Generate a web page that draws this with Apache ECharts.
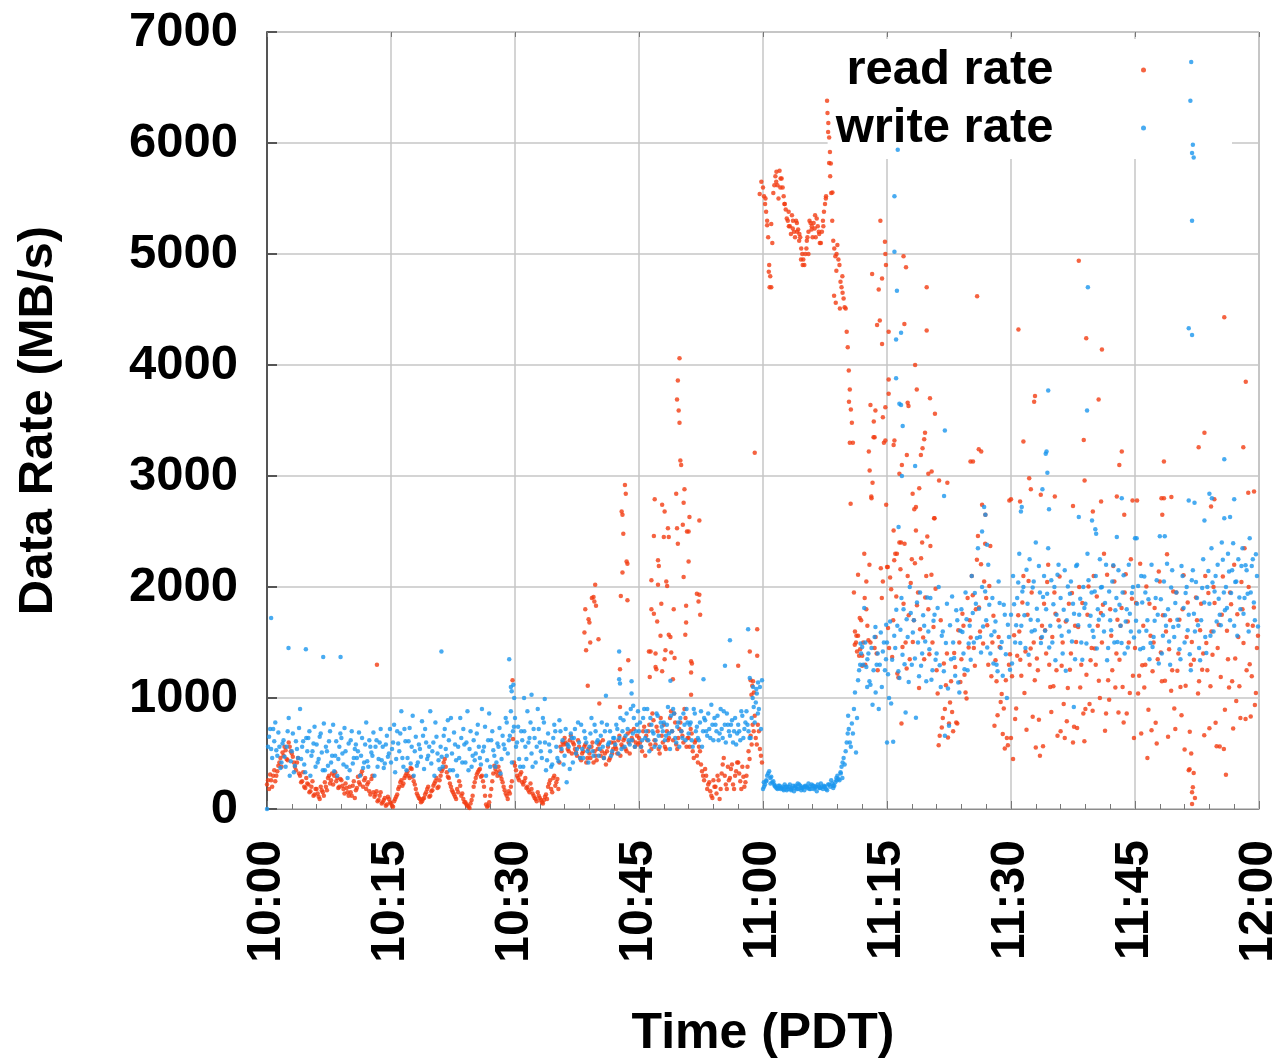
<!DOCTYPE html>
<html><head><meta charset="utf-8">
<script src="https://cdn.jsdelivr.net/npm/echarts@6/dist/echarts.min.js"></script>
<style>html,body{margin:0;padding:0;background:#fff}#chart{width:1274px;height:1062px}</style>
</head><body><div id="chart"></div>
<script>
// Time axis: minutes after 10:00 PDT
const tickLabels = ['10:00','10:15','10:30','10:45','11:00','11:15','11:30','11:45','12:00'];
const SAMPLES_PER_MIN = 4;   // band samples every 15 s from 10:00
const BAND2_OFFSET_MIN = 0.125; // second band sampled 7.5 s later

// read rate (MB/s)
const readBand = [
// 10:00-10:15
220,180,260,300, 250,340,420,380, 480,530,440,560, 500,420,350,460, 300,250,200,280,
220,160,250,130, 180,110,200,150, 240,170,300,260, 220,330,280,200, 260,180,230,150,
200,120,250,170, 290,220,340,260, 180,240,130,300, 110,160,80,150, 60,100,40,90,
// 10:15-10:30
50,20,90,130, 200,260,230,300, 340,280,360,250, 180,120,90,70, 100,150,200,120,
170,230,280,200, 300,360,450,330, 280,200,150,110, 180,250,120,90, 60,30,10,80,
200,280,330,360, 300,200,40,30, 120,250,390,330, 380,300,240,170, 120,160,200,630,
// 10:30-10:45
390,300,260,330, 220,280,200,150, 180,120,90,150, 100,60,80,130, 200,260,150,300,
240,180,560,600, 640,580,520,660, 600,540,480,560, 440,520,580,460, 500,560,420,480,
540,600,520,460, 400,560,460,500, 600,540,620,480, 560,640,520,600, 700,620,560,660,
// 10:45-11:00
640,560,700,480, 620,760,540,800, 580,700,500,660, 760,540,620,820, 700,860,580,640,
780,660,900,560, 640,720,520,600, 480,560,400,300, 360,180,240,120, 260,200,300,90,
320,460,220,380, 280,400,180,340, 420,250,380,200, 300,520,660,760, 840,580,700,480,
// 11:00-11:15
5600,5450,5260,4900, 4700,5550,5700,5620, 5750,5680,5520,5400, 5300,5250,5350,5200, 5300,5220,5150,5000,
4900,5050,5200,5280, 5150,5230,5320,5200, 5100,5300,5450,6380, 5820,5550,5120,4980, 5080,4900,4700,4600,
4510,4160,3780,3480, 1950,1500,1560,1440, 1290,2300,1800,1520, 3640,2940,1450,1400, 4680,2170,3530,5110,
// 11:15-11:30
2180,1450,1980,1700, 2300,1220,2400,770, 1850,1500,2100,1350, 2250,1700,2510,1950, 1620,2400,1350,2100,
1800,2370,1500,2620, 1250,575,1700,820, 900,1400,770,1150, 700,1280,770,1500, 1350,1650,1050,1900,
1700,2100,1450,1800, 2460,1600,2740,2050, 1900,1300,2370,1500, 750,1150,1550,965, 675,545,640,1300,
// 11:30-11:45
640,450,810,1380, 1600,1200,2100,1420, 1750,1300,1950,1500, 554,1250,480,1650, 1850,1400,2200,1100,
1550,1950,1250,1700, 700,1500,640,790, 1850,1400,600,1650, 730,2000,1300,860, 900,1750,945,1450,
2100,1300,1650,1000, 1500,2300,860,1160, 1800,1250,2050,1400, 870,1650,1100,1950, 860,1500,2250,1200,
// 11:45-12:00
1450,2780,1200,680, 1650,1300,459,1850, 709,1500,776,1350, 2050,1150,2800,1600, 651,1700,1250,905,
1950,1400,1100,1800, 535,1550,348,1300, 196,98,1700,1150, 1850,1400,2100,1250, 727,1600,2000,776,
1450,562,1750,540, 308,1350,1950,1150, 2200,972,1550,820, 1800,2350,1250,2000, 834,1650,937,1450
];

// read rate, second band (7.5 s after each sample above)
const readBand2 = [
// 10:00-10:15
260,310,200,350, 300,390,460,510, 560,450,600,520, 470,380,420,320, 240,330,190,230,
150,200,120,180, 140,90,170,120, 200,280,230,320, 300,250,190,270, 210,140,190,120,
150,210,100,190, 240,310,200,280, 220,160,270,150, 130,70,120,50, 80,30,110,60,
// 10:15-10:30
30,70,110,180, 240,210,280,320, 300,370,290,220, 140,100,60,90, 130,180,110,160,
210,250,190,260, 340,420,380,290, 230,170,130,90, 150,210,140,60, 40,20,50,120,
240,310,350,290, 250,120,20,60, 180,320,360,300, 340,270,200,140, 90,140,250,420,
// 10:30-10:45
350,280,310,240, 250,190,170,230, 140,100,70,120, 80,50,110,90, 230,180,280,210,
270,420,520,580, 600,540,620,500, 580,510,620,460, 500,560,420,540, 460,600,520,440,
580,480,620,500, 520,440,600,540, 560,500,660,580, 620,540,680,500, 640,720,600,580,
// 10:45-11:00
600,520,740,660, 700,580,860,620, 740,540,820,600, 560,700,640,880, 620,780,540,720,
700,600,820,640, 560,680,460,620, 420,520,340,260, 300,220,160,100, 200,140,260,180,
400,300,180,260, 360,220,300,420, 320,180,290,240, 380,450,580,700, 640,760,540,420,
// 11:00-11:15
5520,5380,5150,4800, 5100,5620,5740,5500, 5680,5600,5450,5320, 5250,5180,5300,5150, 5200,5120,5050,4950,
5000,5150,5300,5220, 5280,5150,5250,5100, 5200,5380,5520,6100, 5700,5300,5050,4850, 4950,4750,4650,4520,
4300,3950,3600,3300, 1600,1420,1380,1700, 1500,1300,1650,2200, 2800,3350,1550,1250, 4400,1900,3300,4900,
// 11:15-11:30
1630,2085,1370,2240, 1915,1185,2160,1460, 2390,1265,1745,2035, 1505,2215,1835,1090, 2260,1545,1905,2455,
1395,2110,1640,1985, 1040,660,735,1310, 1115,645,960,875, 1405,780,1610,1145, 1760,1210,995,1455,
1545,1925,1290,2245, 1815,2205,1490,2390, 1655,2010,1195,1740, 1340,845,1460,1035, 905,1160,575,1395,
// 11:30-11:45
1195,1565,905,1745, 1345,1860,1045,715, 2055,1445,830,1160, 1355,805,1540,565, 1610,2045,1300,875,
1105,1760,660,2095, 1290,945,1690,1090, 1255,1945,740,1505, 1640,1095,1855,610, 1210,2005,1340,885,
1445,1915,1155,1765, 1840,705,2110,985, 1560,2190,1095,1705, 1345,1810,780,2115, 1690,1045,1895,640,
// 11:45-12:00
1855,1040,2210,1295, 1095,2005,895,1560, 1240,1810,590,2140, 1410,1745,1155,2295, 1440,1065,1960,720,
1245,1705,845,2105, 1110,1860,695,1505, 1345,1905,1040,1610, 1255,665,1495,1945, 1105,1390,1855,565,
1660,1190,2095,895, 1605,1095,1845,725, 1355,1755,1105,2045, 1495,810,1660,1305, 1195,1815,1045,1560
];

// read rate, extra points [minute, MB/s] (bursts and outliers)
const readExtra = [
[13.3,1300],[29.7,1160],
[38.4,1590],[38.5,1800],[38.6,1430],[38.8,1110],[38.9,1710],[39.0,1680],[39.1,1500],[39.3,1900],[39.5,1910],[39.6,1870],[39.7,2020],[39.8,1830],[40.1,1530],[40.2,950],
[42.7,1260],[42.7,920],[42.8,1920],[42.9,2680],[43.0,2650],[43.0,2130],[43.1,2480],[43.3,2920],[43.4,2840],[43.5,2230],[43.6,2210],[43.6,1880],[43.7,1340],
[49.9,4060],[49.7,3860],[49.6,3690],[49.8,3590],[49.9,3480],[50.0,3140],[50.1,3100],[59.0,3210],
[46.9,2790],[47.8,2740],[48.1,2680],[49.5,2840],[50.5,2880],[50.4,2760],[51.1,2630],[52.3,2600],[46.8,2460],[48.0,2450],[48.5,2530],[48.6,2450],[49.6,2530],[50.3,2560],[50.8,2500],[51.0,2500],[49.7,2390],[47.3,2240],[47.4,2190],[51.0,2230],
[46.5,2060],[47.3,2020],[48.3,2050],[48.4,2010],[50.4,2090],[52.0,1940],[52.3,1930],[52.2,1870],[52.4,1750],[46.5,1800],[46.8,1760],[47.2,1690],[47.7,1850],[49.2,1800],[50.7,1830],[50.7,1680],
[47.6,1560],[48.6,1570],[48.8,1550],[50.6,1570],[46.2,1420],[46.4,1420],[47.0,1400],[48.2,1430],[48.9,1410],[49.3,1360],[48.1,1350],[51.3,1330],[51.4,1310],[51.3,1230],[47.0,1280],[47.1,1260],[47.8,1240],[46.3,1190],[49.1,1170],[51.3,1030],
[57.0,1290],[58.4,1420],[59.3,1380],[59.3,1620],[58.5,1160],[58.8,1150],[58.7,1110],[58.9,1050],[58.6,1030],
[59.6,5540],[59.8,5650],
[60.3,5500],[60.5,5300],[61.0,5270],[61.6,5650],[62.1,5600],[62.6,5450],[63.1,5380],[63.6,5230],[64.1,5280],[64.4,5180],[65.3,5120],[65.9,5250],[66.3,5350],[66.8,5180],[67.3,5250],[67.6,5500],[68.9,5000],[69.6,4800],[64.6,4950],[65.5,5000],
[67.8,6270],[67.9,6180],[68.0,6050],[68.1,5920],[68.2,5815],[60.7,4840],[60.8,4700],[64.8,4900],[68.4,5555],[68.6,4625],[68.8,4560],[69.3,4510],[70.4,3670],[70.5,3300],[70.6,2750],
[71.5,2110],[71.7,1720],[72.3,1900],[72.5,2050],[72.8,3220],[72.9,3050],[73.1,2815],[73.2,4820],[73.4,3490],[73.5,3350],[73.6,3590],[73.8,4360],[74.2,5300],[74.4,4780],[74.4,4190],[74.5,2050],
[74.8,3620],[74.8,3320],[74.8,5000],[74.9,2740],[75.2,4300],[75.2,3870],[75.2,3740],[75.1,2180],[71.1,1480],[71.3,1560],[72.0,1380],[73.0,1500],
[75.8,3280],[75.9,3320],[75.8,2510],[76.2,2300],[76.5,3020],[76.7,2400],[76.8,3100],[77.0,4980],[77.1,4370],[77.3,4880],[77.4,3190],[77.5,3660],[77.6,3630],[78.1,2840],[78.3,2700],[78.4,4000],
[78.5,2720],[78.6,3780],[78.9,2890],[79.1,3190],[79.3,3250],[79.5,3330],[79.6,3390],[79.8,4700],[79.8,4310],[80.0,3020],[80.2,3700],[80.4,3040],[80.7,2620],[80.8,3560],[81.3,2960],[82.3,2940],
[85.1,3130],[85.4,3130],[85.9,4620],[86.1,3240],[86.4,3220],[86.9,2650],[89.8,2780],
[90.0,2790],[90.9,4320],[91.1,2770],[91.5,3310],[92.2,2980],[92.4,2880],[92.8,3670],[92.9,3720],[93.6,2830],[95.3,2815],[97.5,2730],[98.2,4940],[98.8,3325],[98.9,2960],[99.1,4240],[99.9,2680],
[100.6,3690],[100.9,2770],[101.0,4140],[102.8,2815],[103.1,3100],[103.4,3220],[103.7,2650],[104.7,2780],
[108.2,2800],[108.3,2650],[108.5,3130],[109.4,2810],[111.9,150],[111.9,45],[111.6,357],[112.1,325],[111.8,500],[112.7,3260],[113.4,3390],[114.2,2725],[114.6,2790],[115.8,4430],[118.1,3260],[118.4,3850],[118.7,2850],[119.4,2860]
];

// write rate (MB/s)
const writeBand = [
// 10:00-10:15
0,650,540,720, 780,480,560,420, 620,380,700,300, 520,330,610,460, 900,560,400,640,
640,300,520,740, 580,450,680,350, 350,520,610,420, 760,480,300,560, 640,400,520,280,
350,700,460,580, 520,300,640,420, 780,380,560,480, 300,620,450,720, 560,410,660,500,
// 10:15-10:30
420,600,330,700, 520,880,380,610, 460,730,560,300, 650,420,540,790, 360,600,480,880,
520,300,650,440, 560,380,720,480, 620,820,350,580, 300,460,640,720, 420,880,540,380,
620,500,760,460, 900,560,300,620, 380,700,480,420, 560,320,660,540, 780,620,880,700,
// 10:30-10:45
820,600,450,700, 380,560,880,640, 500,720,420,900, 600,460,780,350, 680,520,400,760,
560,430,700,620, 480,240,560,680, 420,720,540,600, 760,460,640,520, 560,820,480,700,
620,540,780,460, 1020,580,700,520, 640,760,500,820, 700,560,860,620, 900,680,560,760,
// 10:45-11:00
700,560,820,640, 900,520,760,680, 620,840,560,740, 780,660,920,540, 700,860,600,780,
820,640,760,900, 680,780,560,860, 740,620,880,700, 800,660,720,940, 620,760,840,680,
720,880,600,760, 660,800,700,580, 760,620,840,720, 880,700,640,1000, 780,1040,900,720,
// 11:00-11:15
180,220,300,340, 290,250,200,180, 210,190,170,200, 180,220,190,160, 200,180,210,190,
170,200,230,180, 210,190,160,200, 230,180,200,170, 220,260,190,240, 300,260,380,460,
520,680,600,770, 900,510,1160,1300, 1460,1810,1280,1400, 1120,940,1550,1300, 900,1590,1420,1250,
// 11:15-11:30
1500,1000,950,606, 1450,1650,1180,1900, 1800,870,1550,2000, 1300,1700,823,1500, 1950,1400,1650,1150,
1600,1900,1250,1750, 1400,2000,1100,1600, 660,1850,750,1350, 1500,1200,1700,1050, 1800,1400,1950,1250,
1650,2100,1500,1850, 2350,1550,2000,2720, 1700,2200,1400,1900, 1600,1300,2050,1450, 1200,1750,1000,1550,
// 11:30-11:45
1750,2100,1500,1900, 2300,1650,2000,1450, 1850,2250,1600,2050, 2400,1700,1950,1550, 2100,1800,2350,1650,
1500,2000,1750,2200, 1900,1400,2150,1700, 1600,2050,1850,1350, 2200,1750,1500,2000, 1850,2300,1650,1950,
1550,2100,1800,2250, 2000,1600,2200,1450, 1700,2050,1500,1900, 2150,1650,1950,1400, 1800,2200,1600,2000,
// 11:45-12:00
2440,1850,1600,2100, 1450,1950,1700,1350, 2200,1550,1900,1750, 2457,1400,2050,1650, 1800,1300,2150,1550,
1950,1650,1350,2100, 1500,2000,1750,1250, 2150,1600,1900,1450, 1700,2250,1550,2000, 1850,2350,1600,2100,
2200,1750,2400,1950, 2000,2300,1700,2150, 1650,2050,2250,1800, 2350,1900,2150,1600, 1950,2250,1700,2100
];

// write rate, second band
const writeBand2 = [
// 10:00-10:15
560,720,460,610, 530,690,370,590, 470,560,820,430, 680,390,540,730, 450,610,330,520,
700,480,590,380, 420,650,510,770, 560,390,700,480, 340,610,450,680, 500,730,380,590,
620,410,540,460, 690,480,370,580, 430,620,510,690, 560,380,600,440, 370,580,470,720,
// 10:15-10:30
540,760,450,590, 680,460,720,350, 610,410,840,520, 390,580,470,660, 720,450,560,410,
600,780,500,360, 470,660,540,800, 350,500,690,440, 560,820,420,580, 600,350,700,480,
440,680,560,400, 520,740,440,860, 620,530,380,590, 730,450,580,820, 500,660,420,740,
// 10:30-10:45
560,740,380,620, 700,450,600,780, 380,640,560,720, 520,820,600,440, 580,380,640,700,
460,800,540,400, 720,580,360,640, 640,500,780,460, 540,700,600,420, 680,520,760,600,
480,660,560,700, 760,600,480,640, 580,720,640,540, 800,660,720,580, 620,820,700,880,
// 10:45-11:00
780,620,900,700, 620,820,700,560, 860,660,780,700, 620,760,680,840, 900,640,740,560,
700,860,620,780, 760,620,900,700, 640,780,560,820, 700,860,640,760, 820,700,620,900,
640,760,860,700, 760,600,820,680, 700,880,640,780, 760,640,820,920, 960,860,1100,1160,
// 11:00-11:15
200,250,320,280, 240,220,190,210, 180,200,220,170, 200,180,210,190, 180,220,170,200,
210,190,200,220, 180,200,220,190, 200,210,180,220, 200,230,210,280, 270,330,420,400,
600,720,560,680, 1050,820,1250,1400, 1300,1500,1350,1150, 1450,1250,1050,1400, 1300,1100,1500,1350,
// 11:15-11:30
1215,1690,1345,1560, 1795,1240,1615,1390, 1305,1710,1145,1765, 1590,1355,1860,1195, 1290,1745,1510,1905,
1440,1165,1695,1345, 1810,1295,1560,1240, 1495,1085,1655,1915, 1360,1790,1140,1605, 1595,1260,1710,1490,
1345,1765,1945,1540, 1805,1410,1645,1960, 1455,1840,1565,1310, 1690,1240,1855,1505, 1840,1395,1660,1255,
// 11:30-11:45
1310,1845,1655,2040, 1495,1960,1745,2155, 1390,1705,1995,1610, 1805,2190,1495,1910, 1605,1940,1455,2060,
1845,1340,2110,1645, 1560,1795,1245,2005, 1940,1510,1760,2190, 1655,1895,1345,1810, 1490,2060,1740,1605,
1960,1445,1705,1995, 1745,1855,1340,1960, 1610,2195,1790,1505, 1840,1495,2105,1690, 1455,1760,1945,1545,
// 11:45-12:00
1695,2010,1440,1860, 2095,1605,1890,1495, 1460,1695,2060,1310, 1890,1560,1745,2210, 1510,1995,1640,1855,
1705,1440,2190,1810, 1945,1610,1395,2060, 1760,2045,1655,1340, 1990,1860,1405,2145, 1560,2040,1960,1690,
1895,1655,2245,1790, 1810,2140,1945,2395, 2045,1560,1905,2190, 1760,2195,1940,2440, 2190,1860,2295,1645
];

// write rate, extra points [minute, MB/s]
const writeExtra = [
[0.5,1720],[2.6,1450],[4.7,1440],[6.8,1370],[8.9,1370],
[21.1,1420],[29.3,1350],[29.5,1100],[29.6,1060],[29.8,1120],[29.9,1000],
[31.1,1000],[32.0,1030],[33.6,990],[42.6,1420],[42.6,1170],[42.7,1130],[44.1,1150],[44.1,1040],[44.3,930],
[48.8,1155],[52.8,1170],[55.4,1290],[56.0,1520],[58.2,1620],[58.4,1180],[58.8,1100],[59.2,1080],[59.4,1140],
[60.1,240],[62.5,180],[64.2,230],[66.4,200],[68.5,210],[70.3,840],[71.8,1490],[72.6,1100],[73.6,1640],[74.9,1660],[75.0,600],
[60.4,260],[60.9,230],[61.4,210],[61.9,190],[62.9,200],[63.4,170],[63.9,210],[64.6,190],[65.1,200],[65.6,180],[66.1,210],[66.9,190],[67.4,200],[68.9,260],[69.4,320],[69.6,280],
[75.9,5520],[75.9,5020],[76.1,4230],[76.1,3880],[76.2,4670],[76.3,5940],[76.4,2540],[76.5,3650],[76.7,4290],[76.7,3640],[76.8,3000],[76.9,3450],[78.4,3090],[81.9,2820],[82.0,3410],[86.5,2500],[86.9,2650],[87.1,2380],
[91.2,2680],[91.3,2720],[93.8,2880],[94.2,3200],[94.3,3220],[94.4,3030],[94.5,3770],[94.6,2700],[98.2,2630],[99.2,3590],[99.3,4700],[99.8,2600],[100.2,2520],[100.3,2480],[102.8,2450],[103.4,2800],[97.6,920],
[105.2,2440],[108.6,2457],[111.5,4330],[111.5,2780],[111.7,6380],[111.8,6730],[111.9,5300],[111.9,4270],[111.9,5910],[112.0,5985],[112.1,5870],[112.2,2760],[113.4,2600],[114.0,2840],[114.3,2800],[115.8,3150],[115.8,2620],[116.5,2630],[117.0,2790]
];

function bandPoints(band, offset) {
  return band.map((v, i) => [i / SAMPLES_PER_MIN + offset, v]);
}
const readData = bandPoints(readBand, 0).concat(bandPoints(readBand2, BAND2_OFFSET_MIN), readExtra);
const writeData = bandPoints(writeBand, 0).concat(bandPoints(writeBand2, BAND2_OFFSET_MIN), writeExtra);

const FONT = '"Liberation Sans", Arial, Helvetica, sans-serif';
const chart = echarts.init(document.getElementById('chart'), null, {renderer: 'canvas'});
chart.setOption({
  animation: false,
  backgroundColor: '#ffffff',
  grid: {left: 267, right: 15, top: 32, bottom: 253, show: true, borderColor: '#8c8c8c', borderWidth: 1,
         outerBoundsMode: 'none', containLabel: false},
  legend: {
    orient: 'vertical', right: 42, top: 39, align: 'right',
    padding: [6, 86, 6, 8], itemGap: 8, itemWidth: 170, itemHeight: 5,
    icon: 'circle', backgroundColor: '#ffffff', z: 1,
    textStyle: {fontSize: 49, fontWeight: 'bold', color: '#000', fontFamily: FONT, lineHeight: 50},
    data: ['read rate', 'write rate']
  },
  xAxis: [{
    type: 'value', min: 0, max: 120, interval: 15, position: 'bottom',
    axisLine: {show: true, lineStyle: {color: '#8c8c8c', width: 1}},
    axisTick: {show: true, inside: true, length: 8, lineStyle: {color: '#777'}},
    minorTick: {show: true, splitNumber: 5, length: 5, lineStyle: {color: '#777'}},
    splitLine: {show: true, lineStyle: {color: '#c6c6c6', width: 1.5}},
    axisLabel: {rotate: 90, margin: 31, fontSize: 48, fontWeight: 'bold', color: '#000', fontFamily: FONT,
      formatter: v => tickLabels[Math.round(v / 15)]},
    name: 'Time (PDT)', nameLocation: 'middle', nameGap: 200,
    nameTextStyle: {fontSize: 50, fontWeight: 'bold', color: '#000', fontFamily: FONT}
  }, {
    type: 'value', min: 0, max: 120, interval: 15, position: 'top',
    axisLine: {show: false}, axisLabel: {show: false}, splitLine: {show: false},
    axisTick: {show: true, inside: true, length: 5, lineStyle: {color: '#777'}}
  }],
  yAxis: {
    type: 'value', min: 0, max: 7000, interval: 1000,
    axisLine: {show: true, lineStyle: {color: '#555', width: 2}},
    axisTick: {show: true, inside: true, length: 10, lineStyle: {color: '#555', width: 2}},
    splitLine: {show: true, lineStyle: {color: '#c6c6c6', width: 1.5}},
    axisLabel: {margin: 29, fontSize: 49, fontWeight: 'bold', color: '#000', fontFamily: FONT, formatter: v => String(v)},
    name: 'Data Rate (MB/s)', nameLocation: 'middle', nameGap: 204, nameRotate: 90,
    nameTextStyle: {fontSize: 49, fontWeight: 'bold', color: '#000', fontFamily: FONT}
  },
  series: [
    {type: 'scatter', name: 'read rate', xAxisIndex: 0, data: readData, symbol: 'circle', symbolSize: 4.5,
     itemStyle: {color: '#f23c12'}, z: 2},
    {type: 'scatter', name: 'write rate', xAxisIndex: 0, data: writeData, symbol: 'circle', symbolSize: 4.5,
     itemStyle: {color: '#1a96ee'}, z: 2}
  ]
});
</script></body></html>
